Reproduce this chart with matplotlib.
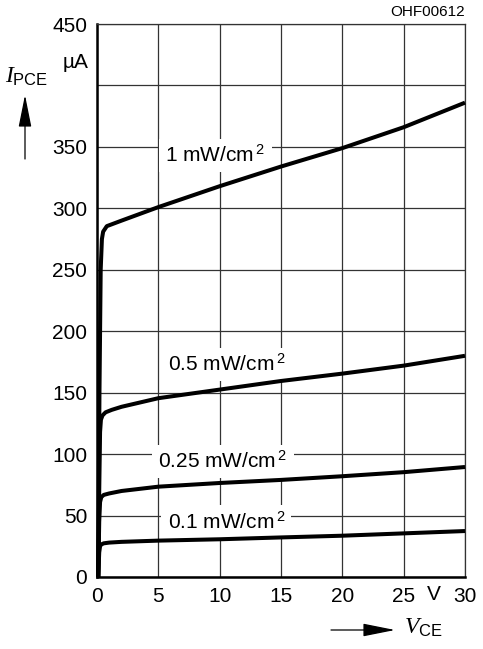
import matplotlib
matplotlib.use('Agg')
import matplotlib.pyplot as plt

plt.rcParams['font.family'] = ['Liberation Sans', 'DejaVu Sans']
plt.rcParams['mathtext.fontset'] = 'custom'
plt.rcParams['mathtext.rm'] = 'Liberation Sans'
plt.rcParams['mathtext.it'] = 'Liberation Serif:italic'

# === Data (V_CE in V, I_PCE in uA) ===
v_1mw = [0.1, 0.2, 0.3, 0.4, 0.5, 0.8, 1.2, 2, 5, 10, 15, 20, 25, 30]
i_1mw = [0, 150, 250, 275, 281, 285.5, 287, 290, 301, 318, 334, 349, 366, 386]

v_05mw = [0.1, 0.18, 0.25, 0.32, 0.45, 0.7, 1.2, 2, 5, 10, 15, 20, 25, 30]
i_05mw = [0, 70, 118, 128, 131.5, 134, 136, 138.5, 145.5, 152.5, 159.5, 165.5, 172, 180]

v_025mw = [0.1, 0.18, 0.25, 0.35, 0.55, 1.0, 2, 5, 10, 15, 20, 25, 30]
i_025mw = [0, 45, 61, 65, 66.8, 68, 70, 73.5, 76.5, 79, 82, 85.3, 89.5]

v_01mw = [0.1, 0.18, 0.25, 0.35, 0.55, 1.0, 2, 5, 10, 15, 20, 25, 30]
i_01mw = [0, 20, 25, 26.5, 27.4, 28, 28.6, 29.6, 30.7, 32.2, 33.6, 35.5, 37.4]

curves = [
    (v_1mw, i_1mw, '1 mW/cm$\\,^2$', 5.55, 343),
    (v_05mw, i_05mw, '0.5 mW/cm$\\,^2$', 5.75, 173),
    (v_025mw, i_025mw, '0.25 mW/cm$\\,^2$', 5.0, 94),
    (v_01mw, i_01mw, '0.1 mW/cm$\\,^2$', 5.75, 45),
]

x_ticks = [0, 5, 10, 15, 20, 25, 30]
x_labels = ['0', '5', '10', '15', '20', '25', '30']
y_ticks = [0, 50, 100, 150, 200, 250, 300, 350, 400, 450]
y_labels = ['0', '50', '100', '150', '200', '250', '300', '350', '', '450']

# === Plot ===
fig = plt.figure(figsize=(4.83, 6.49), dpi=100)
ax = fig.add_axes([97 / 483, 1 - 577 / 649, 368 / 483, 553 / 649])

ax.set_xlim(0, 30)
ax.set_ylim(0, 450)
ax.set_xticks(x_ticks)
ax.set_xticklabels(x_labels)
ax.set_yticks(y_ticks)
ax.set_yticklabels(y_labels)
ax.tick_params(length=0, labelsize=15, pad=7)
ax.grid(True, color='#333333', linewidth=0.9)
ax.set_axisbelow(True)
for s in ax.spines.values():
    s.set_linewidth(0.9)
    s.set_color('#333333')
ax.spines['left'].set_linewidth(1.8)
ax.spines['left'].set_color('black')
ax.spines['bottom'].set_linewidth(1.8)
ax.spines['bottom'].set_color('black')

for v, i, label, lx, ly in curves:
    ax.plot(v, i, color='black', linewidth=2.9, solid_joinstyle='round',
            solid_capstyle='butt', clip_on=False, zorder=3)
    ax.text(lx, ly, label, fontsize=15, ha='left', va='center', zorder=2,
            bbox=dict(boxstyle='square,pad=0.3', fc='white', ec='none'))

# unit labels in place of tick numbers
ax.text(-0.7, 419, 'µA', fontsize=15, ha='right', va='center')
ax.text(27.5, -6.5, 'V', fontsize=15, ha='center', va='top')

# axis names with arrows
arrow_style = dict(arrowstyle='-|>,head_length=2.0,head_width=0.4',
                   color='black', lw=0.9, shrinkA=0, shrinkB=0)
fig.text(27 / 483, 1 - 77 / 649, '$I_{\\mathrm{PCE}}$', fontsize=17, ha='center', va='center')
ax.annotate('', xy=(25 / 483, 1 - 95 / 649), xytext=(25 / 483, 1 - 159 / 649),
            xycoords='figure fraction', textcoords='figure fraction',
            arrowprops=arrow_style)
fig.text(423 / 483, 1 - 628 / 649, '$V_{\\mathrm{CE}}$', fontsize=17, ha='center', va='center')
ax.annotate('', xy=(395 / 483, 1 - 630 / 649), xytext=(331 / 483, 1 - 630 / 649),
            xycoords='figure fraction', textcoords='figure fraction',
            arrowprops=arrow_style)

fig.text(465 / 483, 1 - 12 / 649, 'OHF00612', fontsize=11, ha='right', va='center')

plt.savefig('out.png', dpi=100)
